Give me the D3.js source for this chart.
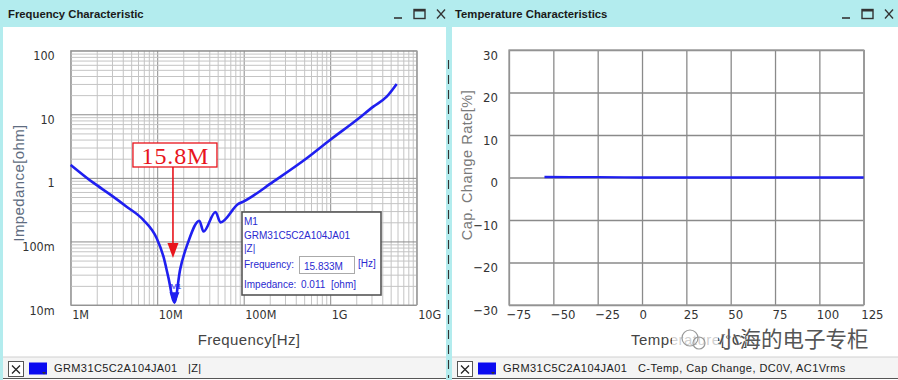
<!DOCTYPE html>
<html>
<head>
<meta charset="utf-8">
<script src="https://cdn.jsdelivr.net/npm/d3@7"></script>
<style>
  html, body { margin: 0; padding: 0; background: #ffffff; }
  svg { display: block; }
  .tick text { font-family: "Liberation Sans Narrow", "DejaVu Sans Condensed", "Liberation Sans", Arial, sans-serif; }
</style>
</head>
<body>
<svg id="chart" width="898" height="380"></svg>
<script>
// ---------- DATA ----------
const freqTickValues = [1e6, 1e7, 1e8, 1e9, 1e10];
const freqTickLabels = ["1M", "10M", "100M", "1G", "10G"];
const impTickValues = [0.01, 0.1, 1, 10, 100];
const impTickLabels = ["10m", "100m", "1", "10", "100"];

const freqHz = [1.0e6, 1.82e6, 2.9e6, 4.43e6, 6.9e6, 9.86e6, 11.8e6, 13.4e6, 15.833e6, 18.4e6, 22.9e6,
  30.7e6, 34.3e6, 47.2e6, 53.9e6, 86.7e6, 98.9e6, 220e6, 535e6, 995e6, 2.02e9, 3.15e9, 4.5e9, 5.87e9];
const impedanceOhm = [1.60, 0.84, 0.54, 0.352, 0.218, 0.112, 0.058, 0.028, 0.011, 0.036, 0.099,
  0.212, 0.143, 0.291, 0.199, 0.389, 0.423, 0.871, 2.03, 3.94, 8.13, 13.2, 18.9, 29.9];

const markerFreq = 15.833e6;
const markerImp = 0.011;
const markerFreqLabel = "15.8M";
const partName = "GRM31C5C2A104JA01";

const tempTickValues = [-75, -50, -25, 0, 25, 50, 75, 100, 125];
const tempTickLabels = ["\u221275", "\u221250", "\u221225", "0", "25", "50", "75", "100", "125"];
const capTickValues = [-30, -20, -10, 0, 10, 20, 30];
const capTickLabels = ["\u221230", "\u221220", "\u221210", "0", "10", "20", "30"];

const tempC = [-55, -40, -25, -10, 0, 25, 50, 75, 100, 125];
const capChangePct = [0.12, 0.1, 0.08, 0.03, 0.01, 0, 0, 0, 0, 0];

// ---------- DRAW ----------
const svg = d3.select("#chart");
const W = 898, H = 380;
const titleCol = "#b3ecee";
const curveCol = "#1f1ff0";

svg.append("rect").attr("x", 0).attr("y", 0).attr("width", W).attr("height", H).attr("fill", "#ffffff");
svg.append("rect").attr("x", 0).attr("y", 0).attr("width", W).attr("height", 27).attr("fill", titleCol);
svg.append("rect").attr("x", 0).attr("y", 0).attr("width", 3).attr("height", H).attr("fill", titleCol);
svg.append("rect").attr("x", 446).attr("y", 0).attr("width", 6).attr("height", H).attr("fill", titleCol);
svg.append("line").attr("x1", 448.5).attr("x2", 448.5).attr("y1", 60).attr("y2", 378)
  .attr("stroke", "#333").attr("stroke-width", 1.1).attr("stroke-dasharray", "9,6");

function titleBar(x0, xr, label) {
  svg.append("text").attr("x", x0).attr("y", 18).text(label)
    .attr("font-family", "Liberation Sans, Arial, sans-serif").attr("font-weight", "bold")
    .attr("font-size", 11.3).attr("fill", "#1a1a1a");
  svg.append("line").attr("x1", xr - 52).attr("x2", xr - 44).attr("y1", 18).attr("y2", 18)
    .attr("stroke", "#333").attr("stroke-width", 1.6);
  svg.append("rect").attr("x", xr - 32).attr("y", 9.5).attr("width", 11).attr("height", 9)
    .attr("fill", "none").attr("stroke", "#333").attr("stroke-width", 1.4);
  svg.append("line").attr("x1", xr - 32).attr("x2", xr - 21).attr("y1", 10.5).attr("y2", 10.5)
    .attr("stroke", "#333").attr("stroke-width", 2);
  svg.append("line").attr("x1", xr - 9).attr("x2", xr - 1).attr("y1", 9.5).attr("y2", 18.5)
    .attr("stroke", "#333").attr("stroke-width", 1.3);
  svg.append("line").attr("x1", xr - 1).attr("x2", xr - 9).attr("y1", 9.5).attr("y2", 18.5)
    .attr("stroke", "#333").attr("stroke-width", 1.3);
}
titleBar(8, 446, "Frequency Characteristic");
titleBar(455, 894, "Temperature Characteristics");

function legendBar(x0, x1, label, spacing) {
  svg.append("rect").attr("x", x0).attr("y", 357).attr("width", x1 - x0).attr("height", 21)
    .attr("fill", "#f4f4f4");
  svg.append("line").attr("x1", x0).attr("x2", x1).attr("y1", 357).attr("y2", 357)
    .attr("stroke", "#d0d0d0");
  svg.append("line").attr("x1", x0).attr("x2", x1).attr("y1", 378.5).attr("y2", 378.5)
    .attr("stroke", "#555");
  const bx = x0 + 5;
  svg.append("rect").attr("x", bx + 0.5).attr("y", 361.5).attr("width", 15).attr("height", 15)
    .attr("fill", "#fff").attr("stroke", "#555");
  svg.append("path").attr("d", `M${bx + 4},${365.5} L${bx + 12},${373.5} M${bx + 12},${365.5} L${bx + 4},${373.5}`)
    .attr("stroke", "#222").attr("stroke-width", 1.3);
  svg.append("rect").attr("x", bx + 21).attr("y", 362.5).attr("width", 18).attr("height", 12)
    .attr("fill", "#0a0af0");
  svg.append("path").attr("d", `M${bx + 34},${372} L${bx + 38},${372} L${bx + 36},${374.5} Z`).attr("fill", "#333");
  svg.append("text").attr("x", bx + 46).attr("y", 371.5).text(label)
    .attr("font-family", "Liberation Sans, Arial, sans-serif").attr("font-size", 11).attr("fill", "#222")
    .attr("letter-spacing", spacing)
    .attr("xml:space", "preserve").style("white-space", "pre");
}
legendBar(3, 446, partName + "   |Z|", 0.4);
legendBar(452, 898, partName + "   C-Temp, Cap Change, DC0V, AC1Vrms", 0.45);

// ---------- LEFT: impedance ----------
const fx = d3.scaleLog().domain([1e6, 1e10]).range([70.7, 416.7]);
const fy = d3.scaleLog().domain([0.01, 100]).range([305, 50.7]);
const gL = svg.append("g");
const isMajor = v => Math.abs(Math.log10(v) - Math.round(Math.log10(v))) < 1e-6;

gL.append("g").attr("transform", "translate(0,305)")
  .call(d3.axisBottom(fx).tickValues(fx.ticks()).tickSize(-(305 - 50.7)).tickFormat(""))
  .call(g => g.select(".domain").remove())
  .call(g => g.selectAll(".tick line").attr("stroke", d => isMajor(d) ? "#8c8c8c" : "#c4c4c4").attr("stroke-width", 1));
gL.append("g").attr("transform", "translate(70.7,0)")
  .call(d3.axisLeft(fy).tickValues(fy.ticks()).tickSize(-(416.7 - 70.7)).tickFormat(""))
  .call(g => g.select(".domain").remove())
  .call(g => g.selectAll(".tick line").attr("stroke", d => isMajor(d) ? "#8c8c8c" : "#c4c4c4").attr("stroke-width", 1));
gL.append("rect").attr("x", 70.7).attr("y", 50.7).attr("width", 416.7 - 70.7).attr("height", 305 - 50.7)
  .attr("fill", "none").attr("stroke", "#999");

gL.append("g").attr("transform", "translate(0,305)")
  .call(d3.axisBottom(fx).tickValues(freqTickValues).tickFormat((d, i) => freqTickLabels[i]).tickSize(0).tickPadding(5))
  .call(g => g.select(".domain").remove())
  .call(g => g.selectAll("text").attr("text-anchor", "start").attr("x", 1)
    .attr("font-size", 12.5).attr("fill", "#333"));
gL.append("g").attr("transform", "translate(70.7,0)")
  .call(d3.axisLeft(fy).tickValues(impTickValues).tickFormat((d, i) => impTickLabels[i]).tickSize(0).tickPadding(16))
  .call(g => g.select(".domain").remove())
  .call(g => g.selectAll("text").attr("y", 5).attr("font-size", 12.5).attr("fill", "#333"));

gL.append("text").attr("transform", "translate(24,183) rotate(-90)").attr("text-anchor", "middle")
  .text("Impedance[ohm]").attr("font-family", "Liberation Sans, Arial, sans-serif")
  .attr("font-size", 15).attr("letter-spacing", 0.4).attr("fill", "#5e6c80");
gL.append("text").attr("x", 249).attr("y", 345).attr("text-anchor", "middle")
  .text("Frequency[Hz]").attr("font-family", "Liberation Sans, Arial, sans-serif")
  .attr("font-size", 15).attr("letter-spacing", 0.4).attr("fill", "#444");

const impData = freqHz.map((f, i) => ({ f, z: impedanceOhm[i] }));
gL.append("path").datum(impData)
  .attr("d", d3.line().x(d => fx(d.f)).y(d => fy(d.z)).curve(d3.curveMonotoneX))
  .attr("fill", "none").attr("stroke", curveCol).attr("stroke-width", 2.6).attr("stroke-linejoin", "round");

const mx = fx(markerFreq);
gL.append("path").attr("d", `M${mx - 5},${fy(markerImp) - 10} L${mx + 5},${fy(markerImp) - 10} L${mx},${fy(markerImp) + 2} Z`)
  .attr("fill", curveCol);
gL.append("text").attr("x", mx - 4).attr("y", fy(markerImp) - 13).text("M1")
  .attr("font-family", "Liberation Sans, Arial, sans-serif").attr("font-size", 8).attr("fill", curveCol);

const ann = gL.append("g");
ann.append("rect").attr("x", mx - 41.5).attr("y", 143).attr("width", 84).attr("height", 24)
  .attr("fill", "#fff").attr("stroke", "#e8141c").attr("stroke-width", 1.3);
ann.append("text").attr("x", mx - 33).attr("y", 163.5).text(markerFreqLabel)
  .attr("font-family", "Liberation Serif, DejaVu Serif, serif").attr("font-size", 24)
  .attr("textLength", 67).attr("lengthAdjust", "spacing").attr("fill", "#e8141c");
ann.append("line").attr("x1", mx - 1.5).attr("x2", mx - 1.5).attr("y1", 167).attr("y2", 245)
  .attr("stroke", "#e8141c").attr("stroke-width", 1.6);
ann.append("path").attr("d", `M${mx - 7},243 L${mx + 4},243 L${mx - 1.5},258 Z`).attr("fill", "#e8141c");

const info = gL.append("g").attr("font-family", "Liberation Sans Narrow, Liberation Sans, Arial, sans-serif")
  .attr("font-size", 10).attr("fill", "#2a2ad0");
info.append("rect").attr("x", 242).attr("y", 212).attr("width", 139).attr("height", 83)
  .attr("fill", "#fff").attr("stroke", "#555").attr("stroke-width", 1.6);
info.append("text").attr("x", 244).attr("y", 225).text("M1");
info.append("text").attr("x", 244).attr("y", 239).text(partName);
info.append("text").attr("x", 244).attr("y", 252).text("|Z|");
info.append("text").attr("x", 244).attr("y", 268).text("Frequency:");
info.append("rect").attr("x", 299.5).attr("y", 256.5).attr("width", 55).attr("height", 17)
  .attr("fill", "#fff").attr("stroke", "#aaa");
info.append("text").attr("x", 304).attr("y", 270).text(d3.format(".3f")(markerFreq / 1e6) + "M");
info.append("text").attr("x", 358).attr("y", 267).text("[Hz]");
info.append("text").attr("x", 244).attr("y", 288).text("Impedance:");
info.append("text").attr("x", 301).attr("y", 288).text(String(markerImp));
info.append("text").attr("x", 331).attr("y", 288).text("[ohm]");

// ---------- RIGHT: temperature ----------
const tx = d3.scaleLinear().domain([-75, 125]).range([509, 863.7]);
const ty = d3.scaleLinear().domain([-30, 30]).range([305, 50]);
const gR = svg.append("g");
gR.append("g").attr("transform", "translate(0,305)")
  .call(d3.axisBottom(tx).tickValues(tempTickValues).tickSize(-(305 - 50)).tickFormat(""))
  .call(g => g.select(".domain").remove())
  .call(g => g.selectAll(".tick line").attr("stroke", "#8a8a8a").attr("stroke-width", 1.3));
gR.append("g").attr("transform", "translate(509,0)")
  .call(d3.axisLeft(ty).tickValues(capTickValues).tickSize(-(863.7 - 509)).tickFormat(""))
  .call(g => g.select(".domain").remove())
  .call(g => g.selectAll(".tick line").attr("stroke", "#8a8a8a").attr("stroke-width", 1.3));
gR.append("rect").attr("x", 509).attr("y", 50).attr("width", 863.7 - 509).attr("height", 255)
  .attr("fill", "none").attr("stroke", "#999").attr("stroke-width", 1.3);

gR.append("g").attr("transform", "translate(0,305)")
  .call(d3.axisBottom(tx).tickValues(tempTickValues).tickFormat((d, i) => tempTickLabels[i]).tickSize(0).tickPadding(5))
  .call(g => g.select(".domain").remove())
  .call(g => g.selectAll("text").attr("text-anchor", "start").attr("x", -3)
    .attr("font-size", 13).attr("fill", "#333"));
gR.append("g").attr("transform", "translate(509,0)")
  .call(d3.axisLeft(ty).tickValues(capTickValues).tickFormat((d, i) => capTickLabels[i]).tickSize(0).tickPadding(11))
  .call(g => g.select(".domain").remove())
  .call(g => g.selectAll("text").attr("y", 5).attr("font-size", 13).attr("fill", "#333"));

gR.append("text").attr("transform", "translate(472,165) rotate(-90)").attr("text-anchor", "middle")
  .text("Cap. Change Rate[%]").attr("font-family", "Liberation Sans, Arial, sans-serif")
  .attr("font-size", 14.5).attr("letter-spacing", 0.5).attr("fill", "#7a7a7a");
gR.append("text").attr("x", 631).attr("y", 345)
  .text("Temperature[\u00b0C]").attr("font-family", "Liberation Sans, Arial, sans-serif")
  .attr("font-size", 15).attr("letter-spacing", 0.5).attr("fill", "#444");

const capData = tempC.map((t, i) => ({ t, v: capChangePct[i] }));
gR.append("path").datum(capData)
  .attr("d", d3.line().x(d => tx(d.t)).y(d => ty(d.v)))
  .attr("fill", "none").attr("stroke", curveCol).attr("stroke-width", 2.4);

// watermark (overlaps the axis title as in the source image)
const wm = svg.append("g");
wm.append("rect").attr("x", 672).attr("y", 324).attr("width", 46).attr("height", 28).attr("fill", "#fff").attr("opacity", 0.75);
wm.append("circle").attr("cx", 690).attr("cy", 338).attr("r", 8).attr("fill", "none").attr("stroke", "#999").attr("stroke-width", 1.2);
wm.append("circle").attr("cx", 699).attr("cy", 343).attr("r", 6).attr("fill", "none").attr("stroke", "#999").attr("stroke-width", 1.2);
wm.append("text").attr("x", 718).attr("y", 347).text("小海的电子专柜")
  .attr("font-family", "Noto Sans CJK SC, sans-serif").attr("font-size", 21.5)
  .attr("fill", "#555").attr("stroke", "#fff").attr("stroke-width", 0.6).attr("paint-order", "stroke");
</script>
</body>
</html>
